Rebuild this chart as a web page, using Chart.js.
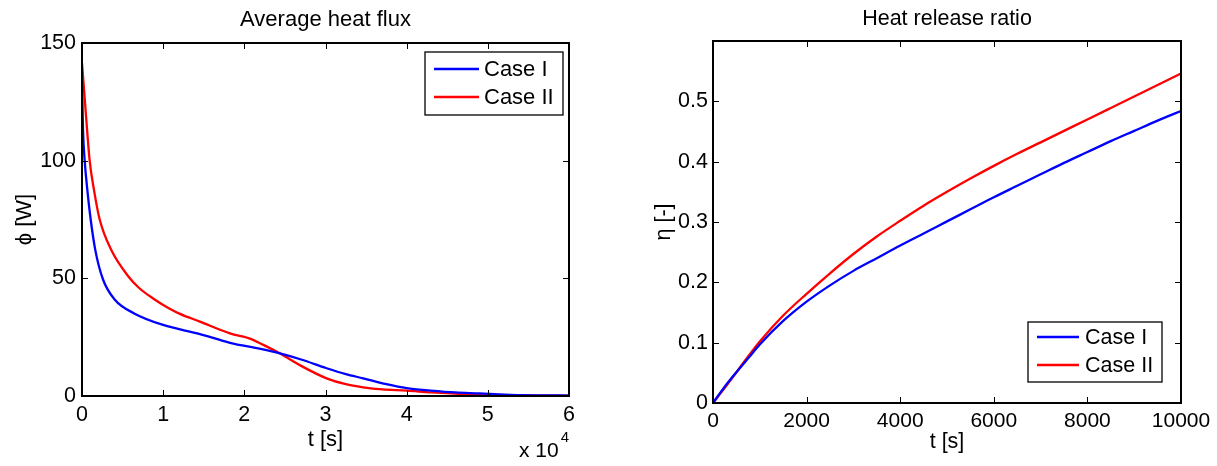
<!DOCTYPE html>
<html><head><meta charset="utf-8">
<script src="https://cdn.jsdelivr.net/npm/chart.js@4.4.1/dist/chart.umd.min.js"></script>
<style>
html,body{margin:0;padding:0;background:#fff;width:1217px;height:466px;overflow:hidden;position:relative}
#c1{position:absolute;left:0;top:0}
#c2{position:absolute;left:608px;top:0}
</style></head><body>
<canvas id="c1" width="651" height="466"></canvas>
<canvas id="c2" width="678" height="466"></canvas>
<script>
// ---------- data ----------
const seriesNames = ['Case I', 'Case II'];

// Left panel: average heat flux [W] vs time [s]
const fluxTimeI  = [0, 125, 330, 660, 1070, 1640, 2590, 4020, 6490, 10000, 14530, 18230, 22000, 24390, 27000, 30130, 32500, 34650, 37500, 40000, 42950, 46000, 48990, 52000, 56000, 60000];
const fluxCaseI  = [134, 113, 100, 87.5, 75, 62, 49.5, 41, 35, 30.2, 26.3, 22.6, 20, 18.1, 15.5, 11.8, 9.3, 7.5, 5, 3.3, 2.3, 1.5, 1.1, 0.6, 0.3, 0.2];
const fluxTimeII = [0, 410, 945, 1480, 2180, 3610, 5670, 7000, 8950, 10000, 12000, 14530, 18230, 20860, 22000, 24390, 27000, 30130, 32500, 34650, 37000, 40000, 43000, 46970, 52700, 56000, 60000];
const fluxCaseII = [141.5, 123, 100, 87.5, 75, 62, 51, 46, 41, 38.7, 35, 31.6, 26.6, 24.2, 22.3, 18.1, 12.8, 7.5, 5, 3.7, 2.8, 2.3, 1.5, 0.85, 0.4, 0.2, 0.1];
const fluxXTicks = [0, 1, 2, 3, 4, 5, 6];          // x 10^4 s
const fluxYTicks = [0, 50, 100, 150];

// Right panel: heat release ratio [-] vs time [s]
const ratioTime   = [0, 250, 500, 750, 1000, 1500, 2000, 2500, 3000, 3500, 4000, 4500, 5000, 5500, 6000, 6500, 7000, 7500, 8000, 8500, 9000, 9500, 10000];
const ratioCaseI  = [0, 0.027, 0.051, 0.074, 0.097, 0.136, 0.168, 0.195, 0.219, 0.240, 0.261, 0.281, 0.301, 0.321, 0.341, 0.360, 0.379, 0.398, 0.416, 0.434, 0.451, 0.468, 0.484];
const ratioCaseII = [0, 0.025, 0.051, 0.077, 0.102, 0.145, 0.181, 0.215, 0.247, 0.276, 0.302, 0.327, 0.350, 0.372, 0.393, 0.413, 0.432, 0.451, 0.470, 0.489, 0.508, 0.527, 0.546];
const ratioXTicks = [0, 2000, 4000, 6000, 8000, 10000];
const ratioYTicks = [0, 0.1, 0.2, 0.3, 0.4, 0.5];

// ---------- helpers ----------
const FONT = "'Liberation Sans', Arial, Helvetica, sans-serif";
const BLUE = '#0000ff', RED = '#ff0000';
const pts = (xs, ys) => xs.map((x, i) => ({x: x, y: ys[i]}));

const matlabPlugin = {
  id: 'matlabAxes',
  afterDatasetsDraw(chart, args, o) {
    const {ctx, chartArea: a, scales: {x, y}} = chart;
    ctx.save();
    ctx.strokeStyle = '#000';
    ctx.lineWidth = 1;
    const L = 6;
    ctx.beginPath();
    x.ticks.forEach(t => {
      const px = Math.round(x.getPixelForValue(t.value)) + 0.5;
      ctx.moveTo(px, a.bottom); ctx.lineTo(px, a.bottom - L);
      ctx.moveTo(px, a.top); ctx.lineTo(px, a.top + L);
    });
    y.ticks.forEach(t => {
      const py = Math.round(y.getPixelForValue(t.value)) + 0.5;
      ctx.moveTo(a.left, py); ctx.lineTo(a.left + L, py);
      ctx.moveTo(a.right, py); ctx.lineTo(a.right - L, py);
    });
    ctx.stroke();
    ctx.lineWidth = 2;
    ctx.strokeRect(a.left, a.top, a.right - a.left, a.bottom - a.top);

    // legend box (MATLAB style)
    const lg = o.legend;
    if (lg) {
      ctx.fillStyle = '#fff';
      ctx.fillRect(lg.x1, lg.y1, lg.x2 - lg.x1, lg.y2 - lg.y1);
      ctx.lineWidth = 1.3;
      ctx.strokeStyle = '#000';
      ctx.strokeRect(lg.x1, lg.y1, lg.x2 - lg.x1, lg.y2 - lg.y1);
      ctx.font = lg.fontSize + 'px ' + FONT;
      ctx.textBaseline = 'middle';
      ctx.textAlign = 'left';
      chart.data.datasets.forEach((ds, i) => {
        const ry = lg.rows[i];
        ctx.strokeStyle = ds.borderColor;
        ctx.lineWidth = 2.5;
        ctx.beginPath();
        ctx.moveTo(lg.lx1, ry); ctx.lineTo(lg.lx2, ry);
        ctx.stroke();
        ctx.fillStyle = '#000';
        ctx.fillText(ds.label, lg.tx, ry + 1);
      });
    }
    // axis exponent label
    const ex = o.exponent;
    if (ex) {
      ctx.fillStyle = '#000';
      ctx.textBaseline = 'middle';
      ctx.textAlign = 'left';
      ctx.font = ex.fontSize + 'px ' + FONT;
      ctx.fillText(ex.base, ex.x, ex.y);
      const w = ctx.measureText(ex.base).width;
      ctx.font = ex.supSize + 'px ' + FONT;
      ctx.fillText(ex.power, ex.x + w + 2, ex.supY);
    }
    ctx.restore();
  }
};

function lineDs(label, data, color) {
  return {label: label, data: data, borderColor: color, backgroundColor: color,
          borderWidth: 2.3, pointRadius: 0, fill: false,
          cubicInterpolationMode: 'monotone'};
}
// invisible right-hand spacer so the title is centred over the plot box
function spacer(w) {
  return {type: 'linear', position: 'right', display: true, min: 0, max: 1,
          afterFit(s) { s.width = w; },
          grid: {display: false, drawTicks: false}, border: {display: false},
          ticks: {display: false}, title: {display: false}};
}

// ---------- left chart ----------
new Chart(document.getElementById('c1'), {
  type: 'line',
  data: {datasets: [
    lineDs(seriesNames[0], pts(fluxTimeI, fluxCaseI), BLUE),
    lineDs(seriesNames[1], pts(fluxTimeII, fluxCaseII), RED)
  ]},
  options: {
    responsive: false, animation: false, devicePixelRatio: 1,
    layout: {padding: {left: 0, right: 0, top: 0, bottom: 0}},
    plugins: {
      legend: {display: false}, tooltip: {enabled: false},
      title: {display: true, text: 'Average heat flux', color: '#000',
              font: {family: FONT, size: 22, weight: 'normal', lineHeight: 1.2},
              padding: {top: 7, bottom: 9.6}},
      matlabAxes: {
        legend: {x1: 425, y1: 52, x2: 563, y2: 115, lx1: 434, lx2: 479, tx: 484, rows: [69, 97], fontSize: 22},
        exponent: {base: 'x 10', power: '4', x: 519, y: 451, fontSize: 21, supSize: 15, supY: 438}
      }
    },
    scales: {
      x: {type: 'linear', min: 0, max: 60000,
          afterFit(s) { s.height = 70; },
          afterBuildTicks(s) { s.ticks = fluxXTicks.map(v => ({value: v * 10000})); },
          grid: {display: false, drawTicks: false}, border: {display: false},
          ticks: {color: '#000', font: {family: FONT, size: 21.5}, padding: 6, maxRotation: 0,
                  callback: v => String(v / 10000)},
          title: {display: true, text: 't [s]', color: '#000',
                  font: {family: FONT, size: 22}, padding: {top: 0, bottom: 13}}},
      y: {type: 'linear', min: 0, max: 150,
          afterFit(s) { s.width = 82; },
          afterBuildTicks(s) { s.ticks = fluxYTicks.map(v => ({value: v})); },
          grid: {display: false, drawTicks: false}, border: {display: false},
          ticks: {color: '#000', font: {family: FONT, size: 21.5}, padding: 6,
                  callback: v => String(v)},
          title: {display: true, text: 'ϕ [W]', color: '#000',
                  font: {family: FONT, size: 22}, padding: {top: 12, bottom: 0}}},
      yPad: spacer(82)
    }
  },
  plugins: [matlabPlugin]
});

// ---------- right chart ----------
new Chart(document.getElementById('c2'), {
  type: 'line',
  data: {datasets: [
    lineDs(seriesNames[0], pts(ratioTime, ratioCaseI), BLUE),
    lineDs(seriesNames[1], pts(ratioTime, ratioCaseII), RED)
  ]},
  options: {
    responsive: false, animation: false, devicePixelRatio: 1,
    layout: {padding: {left: 0, right: 0, top: 0, bottom: 0}},
    plugins: {
      legend: {display: false}, tooltip: {enabled: false},
      title: {display: true, text: 'Heat release ratio', color: '#000',
              font: {family: FONT, size: 21.5, weight: 'normal', lineHeight: 1.2},
              padding: {top: 6, bottom: 9.2}},
      matlabAxes: {
        legend: {x1: 420, y1: 322, x2: 554, y2: 382, lx1: 429, lx2: 471, tx: 477, rows: [337, 365], fontSize: 21.5}
      }
    },
    scales: {
      x: {type: 'linear', min: 0, max: 10000,
          afterFit(s) { s.height = 63; },
          afterBuildTicks(s) { s.ticks = ratioXTicks.map(v => ({value: v})); },
          grid: {display: false, drawTicks: false}, border: {display: false},
          ticks: {color: '#000', font: {family: FONT, size: 21}, padding: 6, maxRotation: 0,
                  callback: v => String(v)},
          title: {display: true, text: 't [s]', color: '#000',
                  font: {family: FONT, size: 21.5}, padding: {top: 0, bottom: 11}}},
      y: {type: 'linear', min: 0, max: 0.6,
          afterFit(s) { s.width = 105; },
          afterBuildTicks(s) { s.ticks = ratioYTicks.map(v => ({value: v})); },
          grid: {display: false, drawTicks: false}, border: {display: false},
          ticks: {color: '#000', font: {family: FONT, size: 21.5}, padding: 5,
                  callback: v => String(Math.round(v * 10) / 10)},
          title: {display: true, text: 'η [-]', color: '#000',
                  font: {family: FONT, size: 21.5}, padding: {top: 43, bottom: 0}}},
      yPad: spacer(105)
    }
  },
  plugins: [matlabPlugin]
});
</script>
</body></html>
